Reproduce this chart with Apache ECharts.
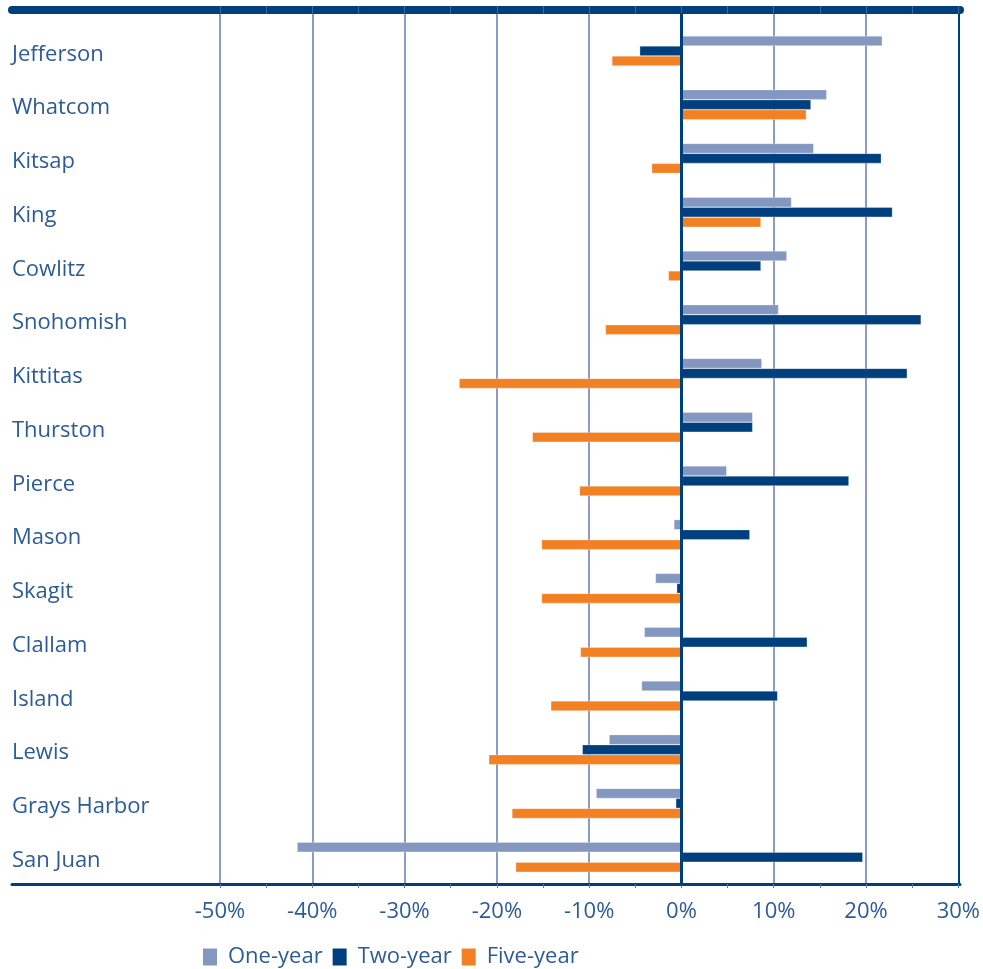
<!DOCTYPE html>
<html>
<head>
<meta charset="utf-8">
<script src="https://cdn.jsdelivr.net/npm/echarts@6/dist/echarts.min.js"></script>
<style>
  html, body { margin: 0; padding: 0; background: #fff; }
  #chart { width: 983px; height: 969px; }
</style>
</head>
<body>
<div id="chart"></div>
<script>
// county names, top to bottom
const counties = ['Jefferson', 'Whatcom', 'Kitsap', 'King', 'Cowlitz', 'Snohomish', 'Kittitas',
  'Thurston', 'Pierce', 'Mason', 'Skagit', 'Clallam', 'Island', 'Lewis', 'Grays Harbor', 'San Juan'];

// percent change
const oneYear  = [21.6, 15.6, 14.2, 11.8, 11.3, 10.4, 8.6, 7.6, 4.8, -0.9, -2.9, -4.1, -4.4, -7.9, -9.3, -41.6];
const twoYear  = [-4.6, 13.9, 21.5, 22.7, 8.5, 25.8, 24.3, 7.6, 18.0, 7.3, -0.6, 13.5, 10.3, -10.8, -0.7, 19.5];
const fiveYear = [-7.6, 13.4, -3.3, 8.5, -1.5, -8.3, -24.1, -16.2, -11.1, -15.2, -15.2, -11.0, -14.2, -20.9, -18.4, -18.0];

const seriesNames = ['One-year', 'Two-year', 'Five-year'];
const tickMin = -50, tickMax = 30;

const navy = '#003f7d';
const grey = '#8a9bc6';
const txt = '#2d5b98';
const font = 'Open Sans';

const myChart = echarts.init(document.getElementById('chart'));

const barSeries = (name, data, color) => ({
  name: name,
  type: 'bar',
  xAxisIndex: 0,
  yAxisIndex: 0,
  data: data,
  barWidth: 10,
  barGap: '0%',
  itemStyle: { color: color, borderColor: 'rgba(255,255,255,0.6)', borderWidth: 0.5 }
});

const option = {
  animation: false,
  legend: {
    data: seriesNames,
    left: 198,
    top: 941,
    itemWidth: 14,
    itemHeight: 17,
    itemGap: 10,
    icon: 'path://M0,0H14V17H0Z',
    itemStyle: { borderWidth: 0 },
    textStyle: { fontFamily: font, fontSize: 22, color: txt, padding: [0, 0, 0, 6] }
  },
  grid: [
    // bars + category labels (full width, labels inside)
    { left: 12, right: 23, top: 24, bottom: 85 },
    // gridlines, tick labels, zero line
    { left: 220, right: 23, top: 14, bottom: 85 }
  ],
  xAxis: [
    {
      type: 'value', gridIndex: 0, position: 'bottom',
      min: -72.4, max: tickMax,
      axisLine: { show: true, lineStyle: { color: navy, width: 3 } },
      axisTick: { show: false }, axisLabel: { show: false }, splitLine: { show: false }
    },
    {
      type: 'value', gridIndex: 0, position: 'top', offset: 14,
      min: -72.4, max: tickMax,
      axisLine: { show: true, lineStyle: { color: navy, width: 8 } },
      axisTick: { show: false }, axisLabel: { show: false }, splitLine: { show: false }
    },
    {
      type: 'value', gridIndex: 1, position: 'bottom',
      min: tickMin, max: tickMax, interval: 10,
      axisLine: { show: false },
      axisTick: { show: true, length: 4, lineStyle: { color: '#5b78aa' } },
      minorTick: { show: true, splitNumber: 2, length: 4, lineStyle: { color: '#5b78aa' } },
      axisLabel: {
        margin: 17, fontFamily: font, fontSize: 22, color: txt,
        formatter: v => v + '%'
      },
      splitLine: {
        show: true,
        lineStyle: { width: 2, color: [grey, grey, grey, grey, grey, grey, grey, grey, navy] }
      }
    },
    {
      type: 'value', gridIndex: 1, position: 'top',
      min: tickMin, max: tickMax, interval: 5,
      axisLine: { show: false },
      axisTick: { show: true, inside: false, length: 8, lineStyle: { color: '#3e669c', width: 1 } },
      axisLabel: { show: false }, splitLine: { show: false }
    }
  ],
  yAxis: [
    {
      type: 'category', gridIndex: 0, data: counties, inverse: true,
      axisLine: { show: false }, axisTick: { show: false },
      axisLabel: {
        inside: true, margin: 0,
        formatter: v => '{a|' + v + '}',
        rich: { a: { fontFamily: font, fontSize: 22, color: txt, padding: [7, 0, 0, 0] } }
      }
    },
    {
      type: 'category', gridIndex: 1, data: counties, inverse: true, z: 3,
      axisLine: { show: true, onZero: true, lineStyle: { color: navy, width: 3 } },
      axisTick: { show: false }, axisLabel: { show: false }
    }
  ],
  series: [
    barSeries(seriesNames[0], oneYear, '#8497c0'),
    barSeries(seriesNames[1], twoYear, navy),
    barSeries(seriesNames[2], fiveYear, '#f28124')
  ]
};

myChart.setOption(option);
</script>
</body>
</html>
